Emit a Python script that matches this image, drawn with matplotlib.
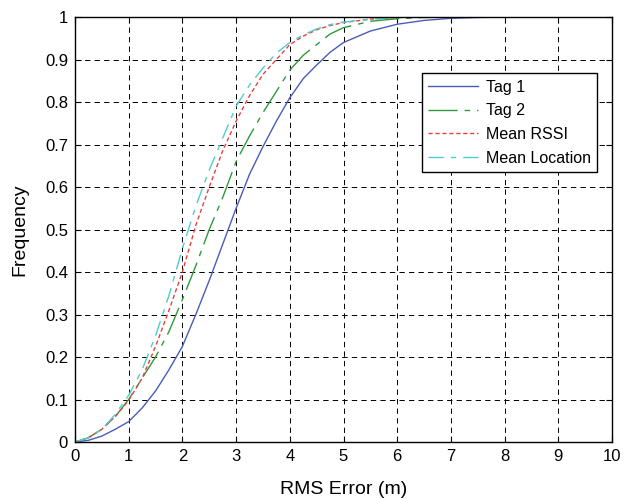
import matplotlib

matplotlib.use("Agg")
import matplotlib.pyplot as plt

plt.rcParams["font.family"] = ["Liberation Sans", "DejaVu Sans"]

# empirical CDF readings (x in m, y = frequency)
err_x = [0, 0.25, 0.5, 0.75, 1.0, 1.25, 1.5, 1.75, 2.0, 2.25, 2.5, 2.75, 3.0, 3.25, 3.5,
         3.75, 4.0, 4.25, 4.5, 4.75, 5.0, 5.5, 6.0, 6.5, 7.0, 7.5, 8.0, 9.0, 10.0]
tag1 = [0, 0.004, 0.014, 0.03, 0.048, 0.08, 0.12, 0.17, 0.225, 0.3, 0.38, 0.465, 0.55, 0.63, 0.695,
        0.755, 0.81, 0.855, 0.887, 0.917, 0.94, 0.967, 0.983, 0.992, 0.997, 0.999, 1.0, 1.0, 1.0]
tag2 = [0, 0.01, 0.03, 0.06, 0.1, 0.15, 0.2, 0.26, 0.335, 0.415, 0.5, 0.575, 0.66, 0.72, 0.775,
        0.825, 0.875, 0.91, 0.935, 0.96, 0.975, 0.99, 0.996, 0.999, 1.0, 1.0, 1.0, 1.0, 1.0]
mean_rssi = [0, 0.01, 0.03, 0.06, 0.098, 0.15, 0.225, 0.31, 0.4, 0.51, 0.6, 0.685, 0.755, 0.815, 0.865,
             0.9, 0.935, 0.955, 0.97, 0.98, 0.987, 0.995, 0.999, 1.0, 1.0, 1.0, 1.0, 1.0, 1.0]
mean_loc = [0, 0.01, 0.03, 0.065, 0.11, 0.17, 0.25, 0.345, 0.455, 0.555, 0.64, 0.715, 0.79, 0.84, 0.88,
            0.915, 0.94, 0.958, 0.972, 0.982, 0.988, 0.995, 0.999, 1.0, 1.0, 1.0, 1.0, 1.0, 1.0]

labels = ["Tag 1", "Tag 2", "Mean RSSI", "Mean Location"]
x_ticks = list(range(0, 11))
y_ticks = [0, 0.1, 0.2, 0.3, 0.4, 0.5, 0.6, 0.7, 0.8, 0.9, 1]
y_tick_labels = ["0", "0.1", "0.2", "0.3", "0.4", "0.5", "0.6", "0.7", "0.8", "0.9", "1"]

fig = plt.figure(figsize=(6.27, 4.99), dpi=100)
ax = fig.add_axes([0.1196, 0.1142, 0.8565, 0.8517])

ax.plot(err_x, tag1, color="#4a5cb8", lw=1.0, label=labels[0])
ax.plot(err_x, tag2, color="#2e9a3a", lw=1.0, dashes=(21, 5, 4, 5), label=labels[1])
ax.plot(err_x, mean_rssi, color="#e8413c", lw=1.0, dashes=(3, 2), label=labels[2])
ax.plot(err_x, mean_loc, color="#4fcdcd", lw=1.0, dashes=(11, 5, 4, 5), label=labels[3])

ax.set_xlim(0, 10)
ax.set_ylim(0, 1)
ax.set_xticks(x_ticks)
ax.set_yticks(y_ticks)
ax.set_yticklabels(y_tick_labels)
ax.tick_params(direction="in", labelsize=12, length=4, top=True, right=True, width=0.8, pad=5)
ax.grid(True, color="black", linestyle=(0, (5.5, 4.3)), lw=0.7)
for sp in ax.spines.values():
    sp.set_linewidth(1.0)

ax.set_xlabel("RMS Error (m)", fontsize=14, labelpad=12)
ax.set_ylabel("Frequency", fontsize=14, labelpad=12)

leg = ax.legend(loc="upper left", bbox_to_anchor=(0.646, 0.868), fontsize=11.5,
                fancybox=False, framealpha=1, edgecolor="black",
                handlelength=3.1, handletextpad=0.5, borderaxespad=0, labelspacing=0.55)
leg.get_frame().set_linewidth(1.0)

fig.savefig("out.png", dpi=100)
